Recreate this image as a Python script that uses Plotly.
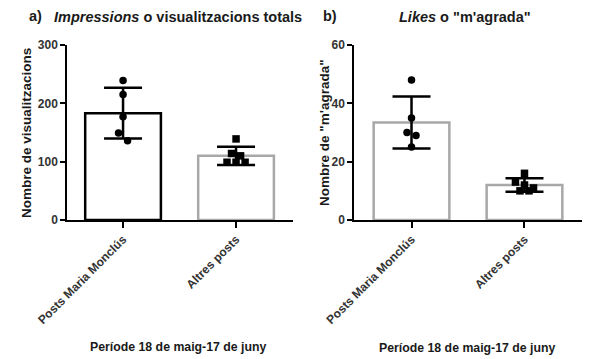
import numpy as np
import plotly.graph_objects as go

# ---------------- data ----------------
categories = ["Posts Maria Monclús", "Altres posts"]
impr_maria = [239, 215, 177, 149, 136]
impr_altres = [139, 114, 110, 99, 99, 99]
likes_maria = [48, 35, 30, 29, 25]
likes_altres = [16, 13, 12, 11, 10, 10]
yticks_a = [0, 100, 200, 300]
yticks_b = [0, 20, 40, 60]

# ---------------- layout constants ----------------
# page body has an 8px default margin -> figure is 592x351 inside 600x359 window
OFF = 8
FW, FH = 600 - OFF, 359 - OFF


def px(x):
    return (x - OFF) / FW


def py(y):
    return (FH - (y - OFF)) / FH


Y_DOM = [py(220), py(45)]
XA_DOM = [px(67), px(293)]
XB_DOM = [px(354), px(582)]
PLOT_H_PX = 175
DOT_SPACING = 0.08  # category units
FONT = "Liberation Sans, Arial, sans-serif"
GRAY = "#a8a8a8"


def swarm(values, ymax, thresh_px=8):
    px_per_unit = PLOT_H_PX / ymax
    order = sorted(range(len(values)), key=lambda i: -values[i])
    rows = []
    for i in order:
        if rows and (values[rows[-1][0]] - values[i]) * px_per_unit < thresh_px:
            rows[-1].append(i)
        else:
            rows.append([i])
    offs = [0.0] * len(values)
    for row in rows:
        for k, i in enumerate(row):
            offs[i] = (k - (len(row) - 1) / 2) * DOT_SPACING
    return offs


fig = go.Figure()


def add_panel(groups, ymax, xa, ya, line_colors):
    means = [float(np.mean(g)) for g in groups]
    sds = [float(np.std(g, ddof=1)) for g in groups]
    fig.add_trace(go.Bar(
        x=[0, 1], y=means, width=0.67,
        marker=dict(color="white", line=dict(color=line_colors, width=2.5)),
        error_y=dict(type="data", array=sds, visible=True, color="black",
                     thickness=2.5, width=19),
        xaxis=xa, yaxis=ya, showlegend=False, hoverinfo="skip"))
    symbols = ["circle", "square"]
    for gi, g in enumerate(groups):
        offs = swarm(g, ymax)
        fig.add_trace(go.Scatter(
            x=[gi + o for o in offs], y=g, mode="markers",
            marker=dict(symbol=symbols[gi], size=7.5, color="black"),
            xaxis=xa, yaxis=ya, showlegend=False, cliponaxis=False))


add_panel([impr_maria, impr_altres], 300, "x", "y", ["black", GRAY])
add_panel([likes_maria, likes_altres], 60, "x2", "y2", [GRAY, GRAY])

axis_common = dict(showline=True, linecolor="black", linewidth=1.5,
                   ticks="outside", tickcolor="black", tickwidth=1.5,
                   showgrid=False, zeroline=False, automargin=False,
                   tickfont=dict(family=FONT, size=12, color="#333333",
                                 weight="bold"))

for name, dom, anchor in [("xaxis", XA_DOM, "y"), ("xaxis2", XB_DOM, "y2")]:
    fig.layout[name] = dict(domain=dom, anchor=anchor, range=[-0.5, 1.5],
                            tickmode="array", tickvals=[0, 1], ticktext=categories,
                            tickangle=-45, ticklen=6, **axis_common)
fig.layout["xaxis"].range = [-0.496, 1.504]
fig.layout["xaxis2"].range = [-0.509, 1.509]

fig.layout["yaxis"] = dict(domain=Y_DOM, anchor="x", range=[0, 300],
                           tickvals=yticks_a, ticklen=5, **axis_common)
fig.layout["yaxis2"] = dict(domain=Y_DOM, anchor="x2", range=[0, 60],
                            tickvals=yticks_b, ticklen=5, **axis_common)

ann = []
tfont = dict(family=FONT, size=14.5, color="#1a1a1a")
ann.append(dict(text="<b>a)</b>", x=px(27), y=py(16), xanchor="left",
                yanchor="middle", font=tfont))
ann.append(dict(text="<b><i>Impressions</i> o visualitzacions totals</b>",
                x=px(178), y=py(17), xanchor="center", yanchor="middle",
                font=tfont))
ann.append(dict(text="<b>b)</b>", x=px(321), y=py(16), xanchor="left",
                yanchor="middle", font=tfont))
ann.append(dict(text="<b><i>Likes</i> o \"m'agrada\"</b>",
                x=px(465), y=py(17), xanchor="center", yanchor="middle",
                font=tfont))
yfont = dict(family=FONT, size=13.5, color="#1a1a1a")
ann.append(dict(text="<b>Nombre de visualitzacions</b>", textangle=-90,
                x=px(26), y=py(133), xanchor="center", yanchor="middle",
                font=yfont))
ann.append(dict(text="<b>Nombre de \"m'agrada\"</b>", textangle=-90,
                x=px(324), y=py(133), xanchor="center", yanchor="middle",
                font=yfont))
xfont = dict(family=FONT, size=12.3, color="#1a1a1a")
ann.append(dict(text="<b>Període 18 de maig-17 de juny</b>",
                x=px(178), y=py(347), xanchor="center", yanchor="middle",
                font=xfont))
ann.append(dict(text="<b>Període 18 de maig-17 de juny</b>",
                x=px(467), y=py(348), xanchor="center", yanchor="middle",
                font=xfont))
for a in ann:
    a.update(xref="paper", yref="paper", showarrow=False)

fig.update_layout(width=FW, height=FH, margin=dict(l=0, r=0, t=0, b=0),
                  paper_bgcolor="white", plot_bgcolor="white",
                  annotations=ann, bargap=0.3,
                  font=dict(family=FONT))

fig.write_html("out.html")
